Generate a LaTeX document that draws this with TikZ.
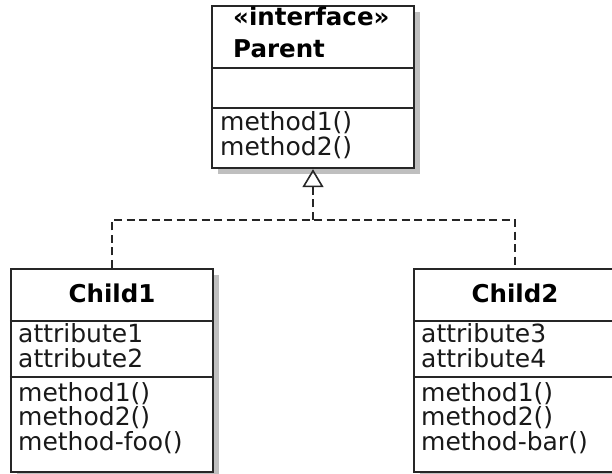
\documentclass[tikz,border=0pt]{standalone}
\usepackage{fontspec}
\setmainfont{DejaVu Sans}
\usetikzlibrary{arrows.meta,shadows}

\tikzset{
  classbox/.style={draw=black!85, line width=2.3bp, fill=white, inner sep=0pt,
    minimum width=202bp,
    drop shadow={shadow xshift=6bp, shadow yshift=-6bp, fill=black!25, opacity=1}},
  divider/.style={draw=black!85, line width=1.8bp},
  member/.style={anchor=base west, inner sep=0pt, text=black!90,
    font=\fontsize{25bp}{25bp}\selectfont},
  title/.style={inner sep=0pt, text=black,
    font=\bfseries\fontsize{24.5bp}{25bp}\selectfont},
  realizes/.style={draw=black!85, line width=2.1bp, dash pattern=on 8bp off 4.5bp}
}

\begin{document}
\begin{tikzpicture}[x=1bp, y=-1bp]
  \useasboundingbox (0,0) rectangle (612,474);
  \clip (0,0) rectangle (612,474);

  % interface Parent
  \node[classbox, minimum height=162bp] (parent) at (313,87) {};
  \draw[divider] (parent.west |- 0,68) -- (parent.east |- 0,68);
  \draw[divider] (parent.west |- 0,108) -- (parent.east |- 0,108);
  \node[title, anchor=base west] (pstereo) at (233,26) {«interface»};
  \node[title, anchor=base west] (pname) at (233,58) {Parent};
  \node[member] (pm1) at (220,131) {method1()};
  \node[member] (pm2) at (220,156) {method2()};

  % class Child1
  \node[classbox, minimum height=203bp] (child1) at (112,370.5) {};
  \draw[divider] (child1.west |- 0,321) -- (child1.east |- 0,321);
  \draw[divider] (child1.west |- 0,377) -- (child1.east |- 0,377);
  \node[title, anchor=base] (c1name) at (112,302.5) {Child1};
  \node[member] (c1a1) at (18,342.5) {attribute1};
  \node[member] (c1a2) at (18,367) {attribute2};
  \node[member] (c1m1) at (18,401) {method1()};
  \node[member] (c1m2) at (18,425.5) {method2()};
  \node[member] (c1m3) at (18,450) {method-foo()};

  % class Child2
  \node[classbox, minimum height=203bp] (child2) at (515,370.5) {};
  \draw[divider] (child2.west |- 0,321) -- (child2.east |- 0,321);
  \draw[divider] (child2.west |- 0,377) -- (child2.east |- 0,377);
  \node[title, anchor=base] (c2name) at (515,302.5) {Child2};
  \node[member] (c2a1) at (421,342.5) {attribute3};
  \node[member] (c2a2) at (421,367) {attribute4};
  \node[member] (c2m1) at (421,401) {method1()};
  \node[member] (c2m2) at (421,425.5) {method2()};
  \node[member] (c2m3) at (421,450) {method-bar()};

  % realization connectors
  \coordinate (joint) at (parent.south |- 0,220);
  \draw[realizes] (child1.north) |- (joint) -| (child2.north);
  \draw[realizes, -{Triangle[open, length=18bp, width=21bp, line width=1.6bp]}]
    (joint) -- (parent.south);
\end{tikzpicture}
\end{document}
